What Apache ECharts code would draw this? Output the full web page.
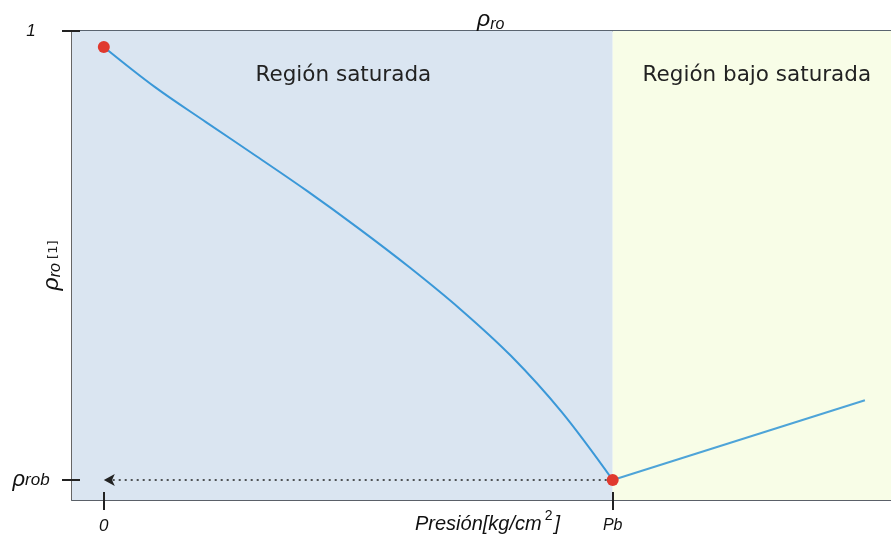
<!DOCTYPE html>
<html>
<head>
<meta charset="utf-8">
<script src="https://cdn.jsdelivr.net/npm/echarts@6/dist/echarts.min.js"></script>
<style>
  html, body { margin: 0; padding: 0; background: #fff; }
  #chart { width: 891px; height: 537px; }
</style>
</head>
<body>
<div id="chart"></div>
<script>
// Relative oil density vs pressure: saturated region (below Pb) and undersaturated region (above Pb)
const pb = 16;            // bubble-point pressure (axis units)
const rhoRob = 0.1;       // density at bubble point
const xRange = [-1, 24.75];
const yRange = [0.06, 1];

// saturated branch: pressure / density
const satPressure = [0, 1.6, 3.2, 4.8, 6.4, 8.0, 9.6, 11.2, 12.8, 14.4, 16];
const satDensity  = [0.968, 0.888, 0.818, 0.749, 0.679, 0.605, 0.527, 0.443, 0.349, 0.236, 0.1];

// undersaturated branch
const underPressure = [16, 23.93];
const underDensity  = [0.1, 0.26];

// end points highlighted in red
const keyPressure = [0, 16];
const keyDensity  = [0.968, 0.1];

const xTickValues = [0, pb];
const yTickValues = [rhoRob, 1];

const regionNames = ['Región saturada', 'Región bajo saturada'];

const zip = (a, b) => a.map((v, i) => [v, b[i]]);

const chart = echarts.init(document.getElementById('chart'));

const italic = { fontFamily: 'Liberation Sans, Arial, sans-serif', fontStyle: 'italic', fontWeight: 'normal', color: '#111' };

chart.setOption({
  animation: false,
  backgroundColor: '#fff',
  title: {
    text: '{p|ρ}{s|ro}',
    left: 472,
    top: 2,
    textStyle: {
      fontWeight: 'normal',
      rich: {
        p: Object.assign({}, italic, { fontSize: 23 }),
        s: Object.assign({}, italic, { fontSize: 16, padding: [10, 0, 0, 0] })
      }
    }
  },
  grid: { left: 72, right: 0, top: 31, bottom: 37, outerBoundsMode: 'none', containLabel: false },
  xAxis: [
    {
      type: 'value', min: xRange[0], max: xRange[1],
      splitLine: { show: false },
      axisLine: { show: true, onZero: false, lineStyle: { color: '#5a6068', width: 2 } },
      axisTick: { show: true, customValues: xTickValues, length: 10, lineStyle: { color: '#222', width: 2 } },
      axisLabel: {
        customValues: xTickValues,
        margin: 18,
        formatter: v => (Math.abs(v) < 1e-9 ? '{n|0}' : '{s|Pb}'),
        rich: {
          n: Object.assign({}, italic, { fontSize: 17 }),
          s: Object.assign({}, italic, { fontSize: 16, padding: [0, 0, 6, 0] })
        }
      },
      name: '{a|Presión[kg/cm}{sup|2}{a|]}',
      nameLocation: 'middle',
      nameGap: 9,
      nameMoveOverlap: false,
      nameTextStyle: {
        padding: [0, 0, 0, 12],
        rich: {
          a: Object.assign({}, italic, { fontSize: 20, lineHeight: 24 }),
          sup: Object.assign({}, italic, { fontStyle: 'normal', fontSize: 14, padding: [0, 2, 16, 3] })
        }
      }
    },
    {
      type: 'value', min: xRange[0], max: xRange[1], position: 'bottom', z: 10,
      splitLine: { show: false },
      axisLine: { show: false, onZero: false },
      axisTick: { show: true, inside: true, customValues: xTickValues, length: 8, lineStyle: { color: '#222', width: 2 } },
      axisLabel: { show: false }
    },
    {
      type: 'value', min: xRange[0], max: xRange[1], position: 'top',
      splitLine: { show: false },
      axisLine: { show: true, onZero: false, lineStyle: { color: '#5a6470', width: 2 } },
      axisTick: { show: false },
      axisLabel: { show: false }
    }
  ],
  yAxis: [
    {
      type: 'value', min: yRange[0], max: yRange[1],
      splitLine: { show: false },
      axisLine: { show: true, onZero: false, lineStyle: { color: '#333', width: 1.5 } },
      axisTick: { show: true, customValues: yTickValues, length: 10, lineStyle: { color: '#222', width: 2 } },
      axisLabel: {
        customValues: yTickValues,
        margin: 41,
        align: 'center',
        formatter: v => (v > 0.5 ? '{n|1}' : '{p|ρ}{r|rob}'),
        rich: {
          n: Object.assign({}, italic, { fontSize: 17 }),
          p: Object.assign({}, italic, { fontSize: 22 }),
          r: Object.assign({}, italic, { fontSize: 17 })
        }
      },
      name: '{p|ρ}{s|ro}{b| [1]}',
      nameLocation: 'middle',
      nameGap: 8,
      nameRotate: 90,
      nameMoveOverlap: false,
      nameTextStyle: {
        rich: {
          p: Object.assign({}, italic, { fontSize: 23 }),
          s: Object.assign({}, italic, { fontSize: 16, padding: [9, 0, 0, 0] }),
          b: { fontFamily: 'DejaVu Sans, sans-serif', fontSize: 13, color: '#222', padding: [4, 0, 0, 0] }
        }
      }
    },
    {
      type: 'value', min: yRange[0], max: yRange[1], position: 'left', z: 10,
      splitLine: { show: false },
      axisLine: { show: false, onZero: false },
      axisTick: { show: true, inside: true, customValues: yTickValues, length: 8, lineStyle: { color: '#222', width: 2 } },
      axisLabel: { show: false }
    }
  ],
  series: [
    {
      name: 'saturada',
      type: 'line',
      smooth: 0.35,
      showSymbol: false,
      data: zip(satPressure, satDensity),
      lineStyle: { color: '#3a98d8', width: 2 },
      z: 3,
      markArea: {
        silent: true,
        data: [
          [
            {
              xAxis: xRange[0],
              itemStyle: { color: '#dae5f1' },
              label: {
                show: true, position: 'insideTop', distance: 33, offset: [1, 0],
                formatter: regionNames[0],
                fontFamily: 'DejaVu Sans, Verdana, sans-serif', fontSize: 21.5, color: '#222'
              }
            },
            { xAxis: pb }
          ],
          [
            {
              xAxis: pb,
              itemStyle: { color: '#f8fde7' },
              label: {
                show: true, position: 'insideTop', distance: 33, offset: [5, 0],
                formatter: regionNames[1],
                fontFamily: 'DejaVu Sans, Verdana, sans-serif', fontSize: 21.5, color: '#222'
              }
            },
            { xAxis: xRange[1] }
          ]
        ]
      },
      markLine: {
        silent: true,
        symbol: ['none', 'arrow'],
        symbolSize: [9, 11],
        label: { show: false },
        lineStyle: { color: '#222', type: [2, 4], width: 1.5 },
        data: [[{ coord: [pb, rhoRob] }, { coord: [xTickValues[0], rhoRob] }]]
      }
    },
    {
      name: 'bajo saturada',
      type: 'line',
      showSymbol: false,
      data: zip(underPressure, underDensity),
      lineStyle: { color: '#4ea4d8', width: 2 },
      z: 3
    },
    {
      name: 'puntos',
      type: 'scatter',
      symbolSize: 12,
      data: zip(keyPressure, keyDensity),
      itemStyle: { color: '#e0392e', opacity: 1 },
      z: 5
    }
  ]
});
</script>
</body>
</html>
